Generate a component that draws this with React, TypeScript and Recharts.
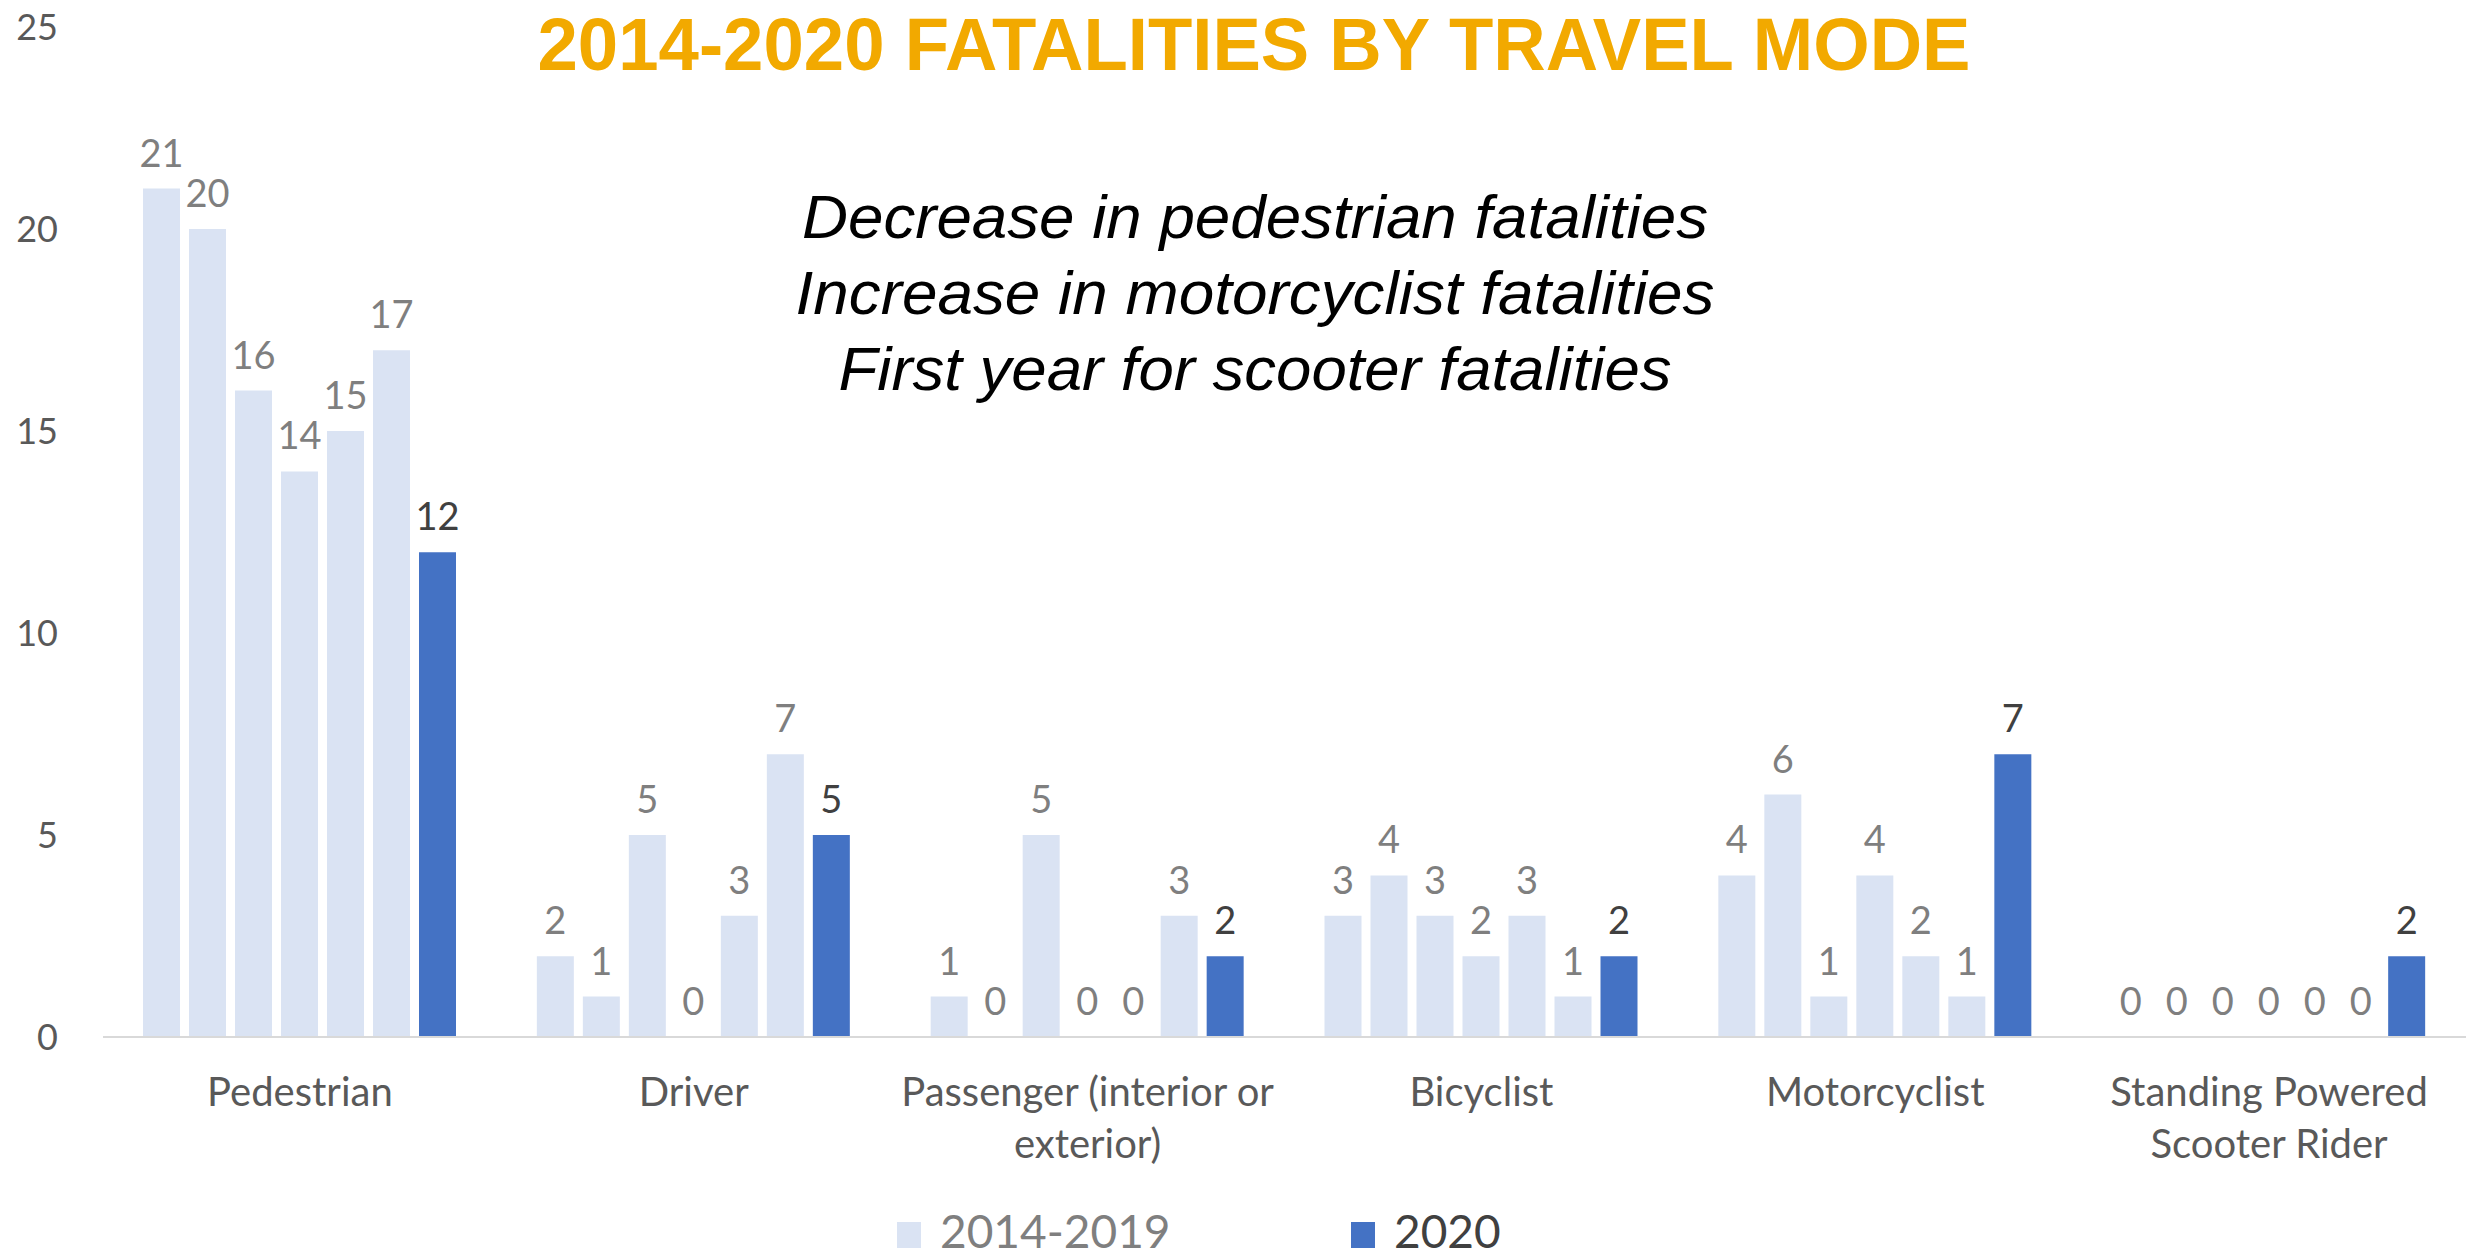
import React from 'react';
import { BarChart, Bar, XAxis, YAxis, LabelList, Legend } from 'recharts';

const categories = [
  'Pedestrian',
  'Driver',
  'Passenger (interior or exterior)',
  'Bicyclist',
  'Motorcyclist',
  'Standing Powered Scooter Rider',
];
const values2014 = [21, 2, 1, 3, 4, 0];
const values2015 = [20, 1, 0, 4, 6, 0];
const values2016 = [16, 5, 5, 3, 1, 0];
const values2017 = [14, 0, 0, 2, 4, 0];
const values2018 = [15, 3, 0, 3, 2, 0];
const values2019 = [17, 7, 3, 1, 1, 0];
const values2020 = [12, 5, 2, 2, 7, 2];
const priorYears = ['2014', '2015', '2016', '2017', '2018', '2019'];
const priorValues = [values2014, values2015, values2016, values2017, values2018, values2019];
const yTicks = [0, 5, 10, 15, 20, 25];
const legendLabels = ['2014-2019', '2020'];
const titleText = '2014-2020 FATALITIES BY TRAVEL MODE';
const notes = [
  'Decrease in pedestrian fatalities',
  'Increase in motorcyclist fatalities',
  'First year for scooter fatalities',
];

const LIGHT = '#DAE3F3';
const DARK = '#4472C4';
const FONT = 'Lato, "Open Sans", sans-serif';

const data = categories.map((c, i) => {
  const row: any = { category: c };
  priorYears.forEach((y, k) => {
    row['y' + y] = priorValues[k][i];
  });
  row.y2020 = values2020[i];
  return row;
});

const CategoryTick = (props: any) => {
  const { x, y, payload } = props;
  const words = String(payload.value).split(' ');
  const lines: string[] = [];
  let cur = '';
  words.forEach((w) => {
    const t = cur ? cur + ' ' + w : w;
    if (t.length > 22 && cur) {
      lines.push(cur);
      cur = w;
    } else cur = t;
  });
  if (cur) lines.push(cur);
  return (
    <text x={x} y={y} textAnchor="middle" fill="#595959" fontSize={40} fontFamily={FONT}>
      {lines.map((l, i) => (
        <tspan key={i} x={x} dy={i === 0 ? 67 : 52}>
          {l}
        </tspan>
      ))}
    </text>
  );
};

const renderLegend = () => (
  <div style={{ position: 'relative', height: 50, fontFamily: FONT, fontSize: 46, lineHeight: '50px' }}>
    <span style={{ position: 'absolute', left: 897, top: 16, width: 24, height: 26, background: LIGHT }} />
    <span style={{ position: 'absolute', left: 940, top: 0, color: '#7F7F7F' }}>{legendLabels[0]}</span>
    <span style={{ position: 'absolute', left: 1351, top: 16, width: 24, height: 26, background: DARK }} />
    <span style={{ position: 'absolute', left: 1394, top: 0, color: '#404040' }}>{legendLabels[1]}</span>
  </div>
);

export default function App() {
  return (
    <div style={{ position: 'absolute', left: 0, top: 0, width: 2475, height: 1258, background: '#fff' }}>
      <BarChart
        width={2475}
        height={1258}
        data={data}
        margin={{ top: 27, right: 9, bottom: 0, left: 0 }}
        barCategoryGap={40}
        barGap={9}
      >
        <XAxis
          dataKey="category"
          height={171}
          tickLine={false}
          tickSize={0}
          axisLine={{ stroke: '#D9D9D9', strokeWidth: 2 }}
          tick={<CategoryTick />}
          interval={0}
        />
        <YAxis
          width={103}
          domain={[0, 25]}
          ticks={yTicks}
          tickLine={false}
          axisLine={false}
          tickSize={0}
          tickMargin={45}
          tick={{ fill: '#595959', fontSize: 36, fontFamily: FONT }}
        />
        <Legend
          content={renderLegend}
          wrapperStyle={{ position: 'absolute', left: 0, top: 1206, width: 2475, height: 50 }}
        />
        {priorYears.map((y) => (
          <Bar key={y} dataKey={'y' + y} fill={LIGHT} minPointSize={0.01} isAnimationActive={false}>
            <LabelList
              dataKey={'y' + y}
              position="top"
              offset={22}
              fill="#7F7F7F"
              fontSize={38}
              fontFamily={FONT}
            />
          </Bar>
        ))}
        <Bar dataKey="y2020" fill={DARK} minPointSize={0.01} isAnimationActive={false}>
          <LabelList dataKey="y2020" position="top" offset={22} fill="#404040" fontSize={38} fontFamily={FONT} />
        </Bar>
      </BarChart>
      <svg
        width={2475}
        height={1258}
        style={{ position: 'absolute', left: 0, top: 0, pointerEvents: 'none' }}
      >
        <text
          x={1254}
          y={70}
          textAnchor="middle"
          fontFamily='"Liberation Sans", Arial, sans-serif'
          fontWeight="bold"
          fontSize={74}
          fill="#F2A900"
          textLength={1433}
          lengthAdjust="spacingAndGlyphs"
        >
          {titleText}
        </text>
        {notes.map((n, i) => (
          <text
            key={i}
            x={1255}
            y={238 + i * 76}
            textAnchor="middle"
            fontFamily='"Liberation Sans", Arial, sans-serif'
            fontStyle="italic"
            fontSize={62}
            fill="#000"
            textLength={[906, 919, 833][i]}
            lengthAdjust="spacingAndGlyphs"
          >
            {n}
          </text>
        ))}
      </svg>
    </div>
  );
}
